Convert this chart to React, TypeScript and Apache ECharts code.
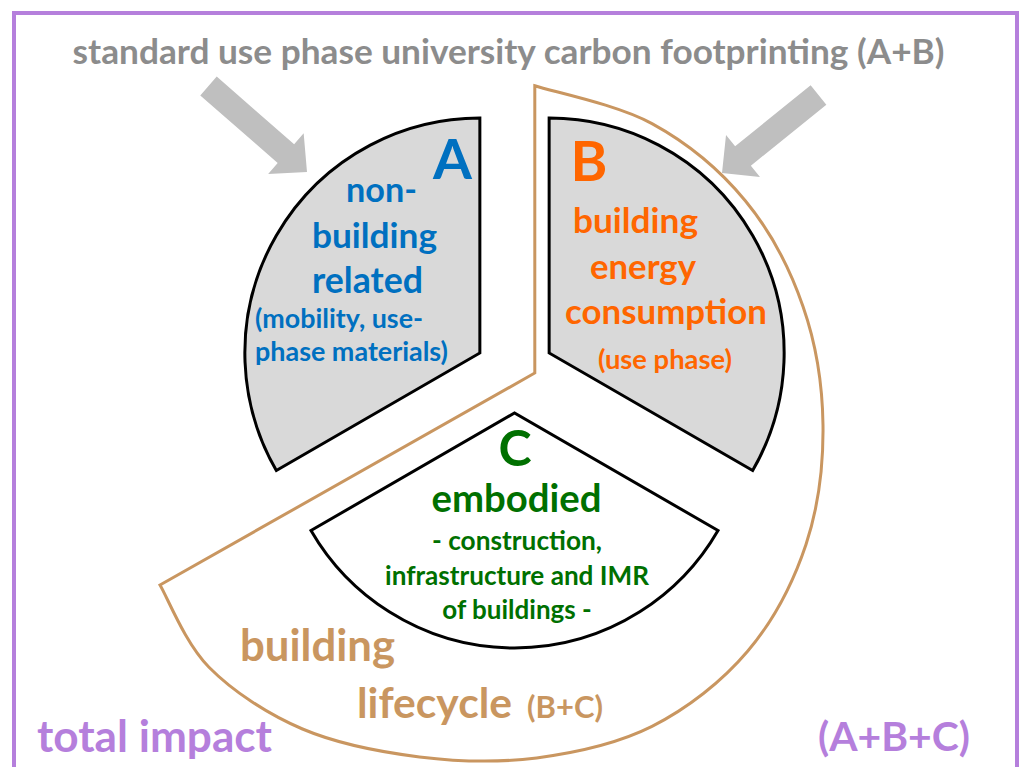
import React, { useEffect, useRef } from "react";
import * as echarts from "echarts";

// ---- data ----
const segments = ["B", "C", "A"];
const segmentDegrees = [120, 120, 120];
const titleText = "standard use phase university carbon footprinting (A+B)";
const labelA = ["non-", "building", "related"];
const noteA = ["(mobility, use-", "phase materials)"];
const labelB = ["building", "energy", "consumption"];
const noteB = ["(use phase)"];
const labelC = ["embodied"];
const noteC = ["- construction,", "infrastructure and IMR", "of buildings -"];
const lifecycleText = ["building", "lifecycle", "(B+C)"];
const totalText = ["total impact", "(A+B+C)"];

// ---- styles ----
const COL = {
  purple: "#b57fdc",
  title: "#8c8c8c",
  arrow: "#bfbfbf",
  blue: "#0070c0",
  orange: "#ff6600",
  green: "#007000",
  brown: "#c99660",
  fill: "#d9d9d9",
};
const FONT = "Lato";
const BASE_K = 0.36;

const measureCtx = (() => {
  const c = document.createElement("canvas");
  return c.getContext("2d") as CanvasRenderingContext2D;
})();
function fitSize(text: string, width: number) {
  measureCtx.font = `bold 100px ${FONT}`;
  const w = measureCtx.measureText(text).width;
  return (100 * width) / w;
}

function textEl(text: string, cx: number, baseline: number, width: number | null, color: string, size?: number) {
  const fs = size ?? fitSize(text, width as number);
  return {
    type: "text",
    z: 100,
    x: cx,
    y: baseline - BASE_K * fs,
    style: {
      text,
      fill: color,
      font: `bold ${fs.toFixed(2)}px ${FONT}`,
      lineHeight: Math.round(fs * (size ? 0.7 : 0.85)),
      align: "center",
      verticalAlign: "middle",
      textAlign: "center",
      textVerticalAlign: "middle",
    },
  };
}

function arrowPoints(tx: number, ty: number, hx: number, hy: number, sw: number, hw: number, hl: number) {
  const L = Math.hypot(hx - tx, hy - ty);
  const ux = (hx - tx) / L, uy = (hy - ty) / L;
  const nx = -uy, ny = ux;
  const bx = hx - ux * hl, by = hy - uy * hl;
  return [
    [tx + (nx * sw) / 2, ty + (ny * sw) / 2],
    [bx + (nx * sw) / 2, by + (ny * sw) / 2],
    [bx + (nx * hw) / 2, by + (ny * hw) / 2],
    [hx, hy],
    [bx - (nx * hw) / 2, by - (ny * hw) / 2],
    [bx - (nx * sw) / 2, by - (ny * sw) / 2],
    [tx - (nx * sw) / 2, ty - (ny * sw) / 2],
  ];
}

function smoothPath(pts: number[][]) {
  let d = "";
  for (let i = 0; i < pts.length - 1; i++) {
    const p0 = pts[Math.max(0, i - 1)], p1 = pts[i], p2 = pts[i + 1], p3 = pts[Math.min(pts.length - 1, i + 2)];
    const c1 = [p1[0] + (p2[0] - p0[0]) / 6, p1[1] + (p2[1] - p0[1]) / 6];
    const c2 = [p2[0] - (p3[0] - p1[0]) / 6, p2[1] - (p3[1] - p1[1]) / 6];
    d += ` C${c1[0].toFixed(1)},${c1[1].toFixed(1)} ${c2[0].toFixed(1)},${c2[1].toFixed(1)} ${p2[0].toFixed(1)},${p2[1].toFixed(1)}`;
  }
  return d;
}

export default function App() {
  const ref = useRef<HTMLDivElement>(null);
  useEffect(() => {
    if (!ref.current) return;
    // outline of the building-lifecycle (B+C) region: polar knots around (478, 425)
    const oc = [478, 425];
    const knots = [
      [-153.3, 356], [-138, 362], [-120, 351], [-100, 337], [-80, 338], [-60, 348], [-40, 352],
      [-20, 349], [0, 345], [20, 346], [40, 349], [60, 348], [80.5, 344],
    ];
    const arcPts = knots.map(([a, r]) => [
      oc[0] + r * Math.cos((a * Math.PI) / 180),
      oc[1] - r * Math.sin((a * Math.PI) / 180),
    ]);
    const start = arcPts[arcPts.length - 1];
    const d =
      `M${start[0].toFixed(1)},${start[1].toFixed(1)} L${start[0].toFixed(1)},373 L${arcPts[0][0].toFixed(1)},${arcPts[0][1].toFixed(1)}` +
      smoothPath(arcPts) +
      " Z";
    echarts.graphic.registerShape("lifecycle", echarts.graphic.extendPath(d, {}) as any);

    const chart = echarts.init(ref.current, null, { renderer: "svg" });
    const sliceStyle: Record<string, any> = {
      A: { color: COL.fill, borderColor: "#000", borderWidth: 3, borderJoin: "miter" },
      B: { color: COL.fill, borderColor: "#000", borderWidth: 3, borderJoin: "miter" },
      C: { color: "#ffffff", borderColor: "#000", borderWidth: 3, borderJoin: "miter" },
    };

    const texts: any[] = [
      textEl(titleText, 508.5, 63, 873, COL.title),
      textEl("A", 452.5, 178, null, COL.blue, 56),
      textEl(labelA[0], 381.5, 201, 71, COL.blue),
      textEl(labelA[1], 374.5, 247, 125, COL.blue),
      textEl(labelA[2], 367.5, 292, 111, COL.blue),
      textEl(noteA[0], 339, 327, 168, COL.blue),
      textEl(noteA[1], 351.5, 360, 193, COL.blue),
      textEl("B", 589, 180, null, COL.orange, 56),
      textEl(labelB[0], 635.5, 232, 125, COL.orange),
      textEl(labelB[1], 643, 278, 106, COL.orange),
      textEl(labelB[2], 666, 323, 202, COL.orange),
      textEl(noteB[0], 665, 368, 134, COL.orange),
      textEl("C", 515, 465, null, COL.green, 50),
      textEl(labelC[0], 516.5, 511, 170, COL.green),
      textEl(noteC[0], 517, 549, 170, COL.green),
      textEl(noteC[1], 517, 584, 264, COL.green),
      textEl(noteC[2], 517, 618, 150, COL.green),
      textEl(lifecycleText[0], 317.5, 660, 155, COL.brown),
      textEl(lifecycleText[1], 434.5, 717, 155, COL.brown),
      textEl(lifecycleText[2], 565, 717, 76, COL.brown),
      textEl(totalText[0], 154.5, 750, 235, COL.purple),
      textEl(totalText[1], 894, 750, 152, COL.purple),
    ];

    chart.setOption({
      animation: false,
      series: [
        {
          type: "pie",
          center: [514.5, 373],
          radius: 235,
          startAngle: 90,
          clockwise: true,
          selectedMode: "multiple",
          selectedOffset: 40,
          silent: true,
          z: 5,
          label: { show: false },
          labelLine: { show: false },
          emphasis: { disabled: true },
          data: segments.map((name, i) => ({
            name,
            value: segmentDegrees[i],
            selected: true,
            itemStyle: sliceStyle[name],
            select: { itemStyle: sliceStyle[name] },
          })),
        },
      ],
      graphic: [
        {
          type: "rect",
          z: 0,
          shape: { x: 14, y: 13, width: 1003, height: 800 },
          style: { fill: "none", stroke: COL.purple, lineWidth: 4 },
        },
        {
          type: "polygon",
          z: 1,
          shape: { points: arrowPoints(208.5, 86, 307, 172, 25, 54, 28) },
          style: { fill: COL.arrow },
        },
        {
          type: "polygon",
          z: 1,
          shape: { points: arrowPoints(818.5, 95, 722, 173, 25, 54, 27) },
          style: { fill: COL.arrow },
        },
        {
          type: "lifecycle",
          z: 1,
          x: 0,
          y: 0,
          style: { fill: "none", stroke: COL.brown, lineWidth: 3, lineJoin: "miter" },
        },
        ...texts,
      ],
    });
    return () => chart.dispose();
  }, []);
  return (
    <div
      ref={ref}
      style={{ position: "absolute", left: 0, top: 0, width: 1019, height: 767, background: "#fff" }}
    />
  );
}
